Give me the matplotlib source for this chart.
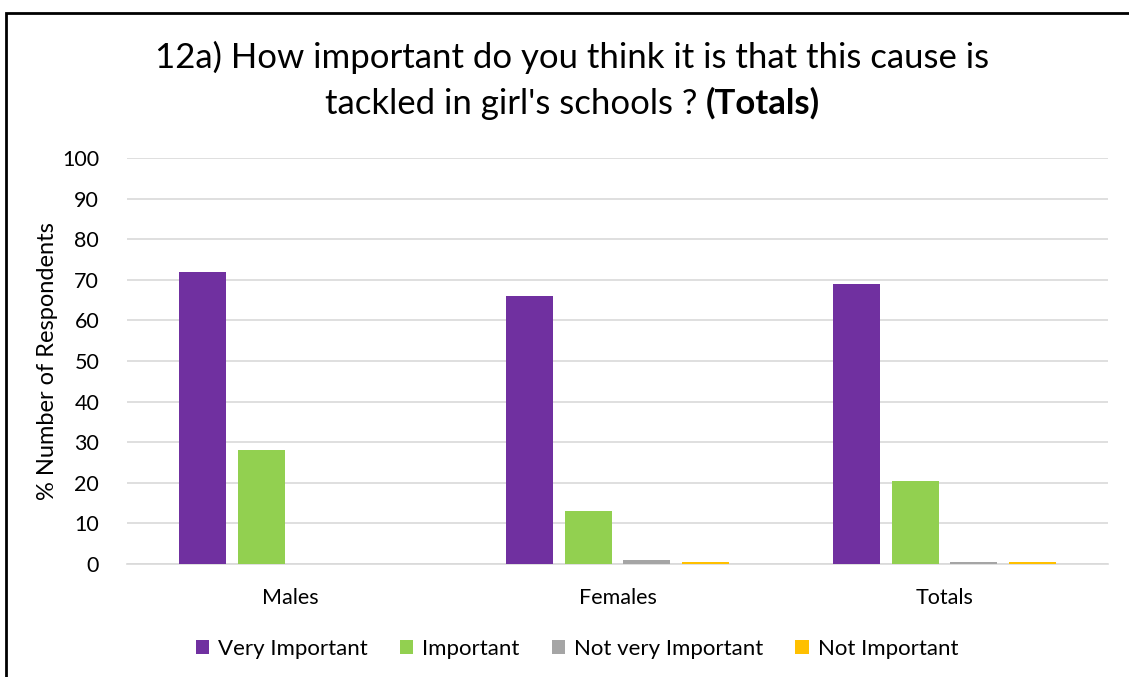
import matplotlib
matplotlib.use('Agg')
import matplotlib.pyplot as plt
import numpy as np
from matplotlib.patches import Rectangle

plt.rcParams['font.family'] = ['Lato', 'DejaVu Sans']

groups = ['Males', 'Females', 'Totals']
series = ['Very Important', 'Important', 'Not very Important', 'Not Important']
very_important = [72, 66, 69]
important = [28, 13, 20.5]
not_very_important = [0, 1.1, 0.4]
not_important = [0, 0.5, 0.5]
colors = ['#7030A0', '#92D050', '#A5A5A5', '#FFC000']

values = [very_important, important, not_very_important, not_important]

fig = plt.figure(figsize=(11.29, 6.77), dpi=100)
ax = fig.add_axes([0.1125, 0.1669, 0.8689, 0.5997])

x = np.arange(len(groups))
step = 0.18
width = 0.144
for i, (name, vals) in enumerate(zip(series, values)):
    ax.bar(x + (i - 1.5) * step, vals, width, color=colors[i], label=name,
           zorder=3)

ax.set_xlim(-0.5, 2.5)
ax.set_ylim(0, 100)
ax.set_yticks(range(0, 101, 10))
ax.set_xticks(x)
ax.set_xticklabels(groups)
ax.tick_params(axis='both', length=0, labelsize=15.5, colors='#000000')
ax.tick_params(axis='y', pad=20)
ax.tick_params(axis='x', pad=17)
ax.grid(axis='y', color='#D9D9D9', linewidth=1.2, zorder=0)
for s in ['top', 'right', 'left']:
    ax.spines[s].set_visible(False)
ax.spines['bottom'].set_color('#D9D9D9')
ax.spines['bottom'].set_linewidth(1.2)
ax.set_ylabel('% Number of Respondents', fontsize=17, labelpad=3)

# legend along the bottom
fig.legend(loc='center', bbox_to_anchor=(0.511, 0.042), ncol=4, frameon=False,
           fontsize=16, handlelength=0.6, handleheight=0.6, handletextpad=0.4,
           columnspacing=1.45)

# title, second line partly bold
cx = 0.507
fig.text(cx, 0.915, '12a) How important do you think it is that this cause is',
         ha='center', va='center', fontsize=25)
fig.canvas.draw()
r = fig.canvas.get_renderer()
t1 = fig.text(0, 0.847, "tackled in girl's schools ? ", ha='left', va='center', fontsize=25)
t2 = fig.text(0, 0.847, '(Totals)', ha='left', va='center', fontsize=25, fontweight='bold')
w1 = t1.get_window_extent(r).width / fig.bbox.width
w2 = t2.get_window_extent(r).width / fig.bbox.width
start = cx - (w1 + w2) / 2
t1.set_x(start)
t2.set_x(start + w1)

# outer frame (left and top edges visible)
fig.patches.append(Rectangle((6 / 1129, -0.1), 1.2, 1 - 13 / 677 + 0.1,
                             transform=fig.transFigure, fill=False,
                             edgecolor='black', linewidth=2))

fig.savefig('out.png', dpi=100)
